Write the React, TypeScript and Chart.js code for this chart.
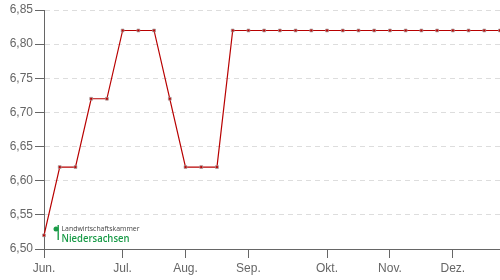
import React, { useEffect, useRef } from "react";
import { Chart, registerables } from "chart.js";

Chart.register(...registerables);

// weekly values (Jun. – Dez.)
const weekValues: number[] = [
  6.52, 6.62, 6.62, 6.72, 6.72, 6.82, 6.82, 6.82, 6.72, 6.62,
  6.62, 6.62, 6.82, 6.82, 6.82, 6.82, 6.82, 6.82, 6.82, 6.82,
  6.82, 6.82, 6.82, 6.82, 6.82, 6.82, 6.82, 6.82, 6.82, 6.82,
];
// week index where each month label sits
const monthTickIndex: number[] = [0, 5, 9, 13, 18, 22, 26];
const monthLabels: string[] = ["Jun.", "Jul.", "Aug.", "Sep.", "Okt.", "Nov.", "Dez."];
const yTicks: number[] = [6.5, 6.55, 6.6, 6.65, 6.7, 6.75, 6.8, 6.85];

function fitText(ctx: CanvasRenderingContext2D, text: string, x: number, y: number, w: number) {
  const m = ctx.measureText(text).width;
  const s = m > 0 ? w / m : 1;
  ctx.save();
  ctx.translate(x, y);
  ctx.scale(s, 1);
  ctx.fillText(text, 0, 0);
  ctx.restore();
}

const logoPlugin = {
  id: "logo",
  afterDraw(chart: any) {
    const ctx = chart.ctx as CanvasRenderingContext2D;
    ctx.save();
    ctx.fillStyle = "#1a9b48";
    ctx.beginPath();
    ctx.arc(56, 229, 2.5, 0, Math.PI * 2);
    ctx.fill();
    ctx.fillRect(57.5, 225, 1.4, 15);
    ctx.fillStyle = "#444";
    ctx.font = "8px 'Open Sans', sans-serif";
    ctx.textBaseline = "alphabetic";
    fitText(ctx, "Landwirtschaftskammer", 61.5, 231, 78);
    ctx.fillStyle = "#1a9b48";
    ctx.font = "600 11px 'Open Sans', sans-serif";
    fitText(ctx, "Niedersachsen", 61.5, 241.5, 68);
    ctx.restore();
  },
};

export default function App() {
  const ref = useRef<HTMLCanvasElement | null>(null);
  useEffect(() => {
    document.body.style.margin = "0";
    const canvas = ref.current!;
    const data = weekValues.map((v, i) => ({ x: i, y: v }));
    const chart = new Chart(canvas, {
      type: "line",
      data: {
        datasets: [
          {
            data,
            borderColor: "#b80000",
            borderWidth: 1.2,
            pointStyle: "rect",
            pointRadius: 2,
            pointBackgroundColor: "#c00000",
            pointBorderColor: "#a0a0a0",
            pointBorderWidth: 0.7,
            tension: 0,
            clip: 6,
          },
        ],
      },
      options: {
        animation: false,
        responsive: false,
        maintainAspectRatio: false,
        layout: { autoPadding: false, padding: { top: 10, right: 0, left: 0, bottom: 0 } },
        plugins: { legend: { display: false }, tooltip: { enabled: false } },
        scales: {
          x: {
            type: "linear",
            min: 0,
            max: weekValues.length - 1,
            afterBuildTicks: (scale: any) => {
              scale.ticks = monthTickIndex.map((v) => ({ value: v }));
            },
            afterFit: (scale: any) => {
              scale.height = 31;
              scale.paddingRight = 0;
              scale.paddingLeft = 0;
            },
            ticks: {
              autoSkip: false,
              maxRotation: 0,
              padding: 3,
              color: "#666",
              font: { family: "'Liberation Sans', Arial, sans-serif", size: 12 },
              callback: (value: any) => {
                const k = monthTickIndex.indexOf(Number(value));
                return k >= 0 ? monthLabels[k] : "";
              },
            },
            grid: {
              drawOnChartArea: false,
              drawTicks: true,
              tickLength: 9,
              tickColor: "#666",
            },
            border: { color: "#666", width: 1 },
          },
          y: {
            min: 6.5,
            max: 6.85,
            afterBuildTicks: (scale: any) => {
              scale.ticks = yTicks.map((v) => ({ value: v }));
            },
            afterFit: (scale: any) => {
              scale.width = 44;
              scale.paddingTop = 0;
              scale.paddingBottom = 0;
            },
            ticks: {
              padding: 2,
              color: "#666",
              font: { family: "'Liberation Sans', Arial, sans-serif", size: 12 },
              callback: (value: any) => Number(value).toFixed(2).replace(".", ","),
            },
            grid: {
              color: "#dddddd",
              tickBorderDash: [1, 0],
              tickColor: "#666",
              tickLength: 9,
              drawTicks: true,
            },
            border: { color: "#666", width: 1, dash: [5, 4] },
          },
        },
      },
      plugins: [logoPlugin],
    } as any);
    return () => chart.destroy();
  }, []);
  return (
    <div style={{ width: 500, height: 280, position: "relative" }}>
      <canvas ref={ref} width={500} height={280} style={{ display: "block", width: 500, height: 280 }} />
    </div>
  );
}
